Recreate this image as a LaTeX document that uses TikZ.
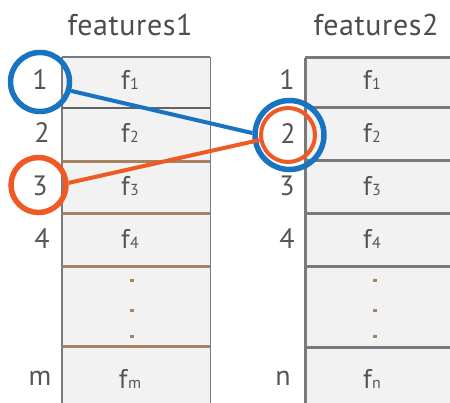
\documentclass[tikz,border=0pt]{standalone}
\usepackage{fontspec}
\setmainfont{PT Sans}
\begin{document}
\definecolor{cblue}{HTML}{1874C1}
\definecolor{corange}{HTML}{EF5A24}
\definecolor{cbrown}{HTML}{A8825F}
\definecolor{cgray}{HTML}{7A7A7A}
\definecolor{ctext}{HTML}{555555}
\definecolor{cfill}{HTML}{F2F2F2}
\newcommand{\fsub}[1]{f\kern0.5pt{\fontsize{16}{16}\selectfont #1}}
\begin{tikzpicture}[x=1pt,y=-1pt,
  cell/.style={fill=cfill,draw=none,minimum width=148pt,inner sep=0pt,anchor=north west},
  cellr/.style={fill=cfill,draw=none,minimum width=160pt,inner sep=0pt,anchor=north west},
  ftxt/.style={text=ctext,font=\fontsize{27}{27}\selectfont},
  idx/.style={text=ctext,font=\fontsize{28}{28}\selectfont},
  title/.style={text=ctext!90!black,font=\fontsize{30}{30}\selectfont\addfontfeatures{LetterSpace=2}},
  ring/.style={circle,draw,line width=5.5pt,inner sep=0pt},
  link/.style={line width=4pt},
  dot/.style={fill=cbrown,draw=none,minimum width=4pt,minimum height=3pt,inner sep=0pt}]
\clip (0,0) rectangle (450,403);
\useasboundingbox (0,0) rectangle (450,403);
% left table cells
\node[cell,minimum height=51pt] (l1) at (62,57) {};
\node[cell,minimum height=53pt] (l2) at (62,108) {};
\node[cell,minimum height=52pt] (l3) at (62,161) {};
\node[cell,minimum height=53pt] (l4) at (62,213) {};
\node[cell,minimum height=80pt] (l5) at (62,266) {};
\node[cell,minimum height=70pt] (l6) at (62,346) {};
% right table cells
\node[cellr,minimum height=49pt] (r1) at (305,58) {};
\node[cellr,minimum height=53pt] (r2) at (305,107) {};
\node[cellr,minimum height=53pt] (r3) at (305,160) {};
\node[cellr,minimum height=53pt] (r4) at (305,213) {};
\node[cellr,minimum height=81pt] (r5) at (305,266) {};
\node[cellr,minimum height=70pt] (r6) at (305,347) {};
% left borders
\draw[cgray,line width=2pt] (l1.north west) -- (l1.north east);
\draw[cgray,line width=1.5pt] (l1.north west) -- (l6.south west);
\draw[cgray,line width=1.5pt] (l1.north east) -- (l6.south east);
\draw[cgray!80!black,line width=2pt] (l1.south west) -- (l1.south east);
\foreach \c in {l2,l3,l4,l5}
  \draw[cbrown,line width=3pt] (\c.south west) -- (\c.south east);
% right borders
\draw[cgray,line width=3pt] (r1.north west) -- (r1.north east);
\draw[cgray,line width=3pt] (r1.north west) -- (r6.south west);
\foreach \c in {r1,r2,r3,r4,r5}
  \draw[cgray,line width=3pt] (\c.south west) -- (\c.south east);
% titles
\node[title] (t1) at (130,25) {features1};
\node[title] (t2) at (376,25) {features2};
% cell text
\node[ftxt] (lf1) at (130,80) {\fsub{1}};
\node[ftxt] (lf2) at (130,133) {\fsub{2}};
\node[ftxt] (lf3) at (130,186) {\fsub{3}};
\node[ftxt] (lf4) at (130,239) {\fsub{4}};
\node[ftxt] (lfm) at (130,379) {\fsub{m}};
\node[ftxt] (rf1) at (372,80) {\fsub{1}};
\node[ftxt] (rf2) at (372,133) {\fsub{2}};
\node[ftxt] (rf3) at (372,186) {\fsub{3}};
\node[ftxt] (rf4) at (372,239) {\fsub{4}};
\node[ftxt] (rfn) at (372,379) {\fsub{n}};
% dots
\node[dot] (ld1) at (132,281) {};
\node[dot] (ld2) at (132,311) {};
\node[dot] (ld3) at (132,337) {};
\node[dot] (rd1) at (375,281) {};
\node[dot] (rd2) at (375,311) {};
\node[dot] (rd3) at (375,337) {};
% indices
\node[idx] (li1) at (40,80) {1};
\node[idx] (li2) at (42,133) {2};
\node[idx] (li3) at (40,186) {3};
\node[idx] (li4) at (42,239) {4};
\node[idx] (lim) at (40,378) {m};
\node[idx] (ri1) at (287,80) {1};
\node[idx] (ri2) at (288,134) {2};
\node[idx] (ri3) at (287,186) {3};
\node[idx] (ri4) at (287,239) {4};
\node[idx] (rin) at (283,378) {n};
% rings
\node[ring,draw=cblue,minimum size=59pt] (cl1) at (40,82) {};
\node[ring,draw=corange,minimum size=55pt] (cl3) at (38.5,185) {};
\node[ring,draw=cblue,minimum size=69pt] (cr2b) at (289.5,135) {};
\node[ring,draw=corange,minimum size=54pt,line width=4pt] (cr2o) at (288,135) {};
% links
\draw[cblue,link] (cl1.-16) -- (cr2b.177);
\draw[corange,link] (cl3.4) -- (cr2o.-170);
\end{tikzpicture}
\end{document}
